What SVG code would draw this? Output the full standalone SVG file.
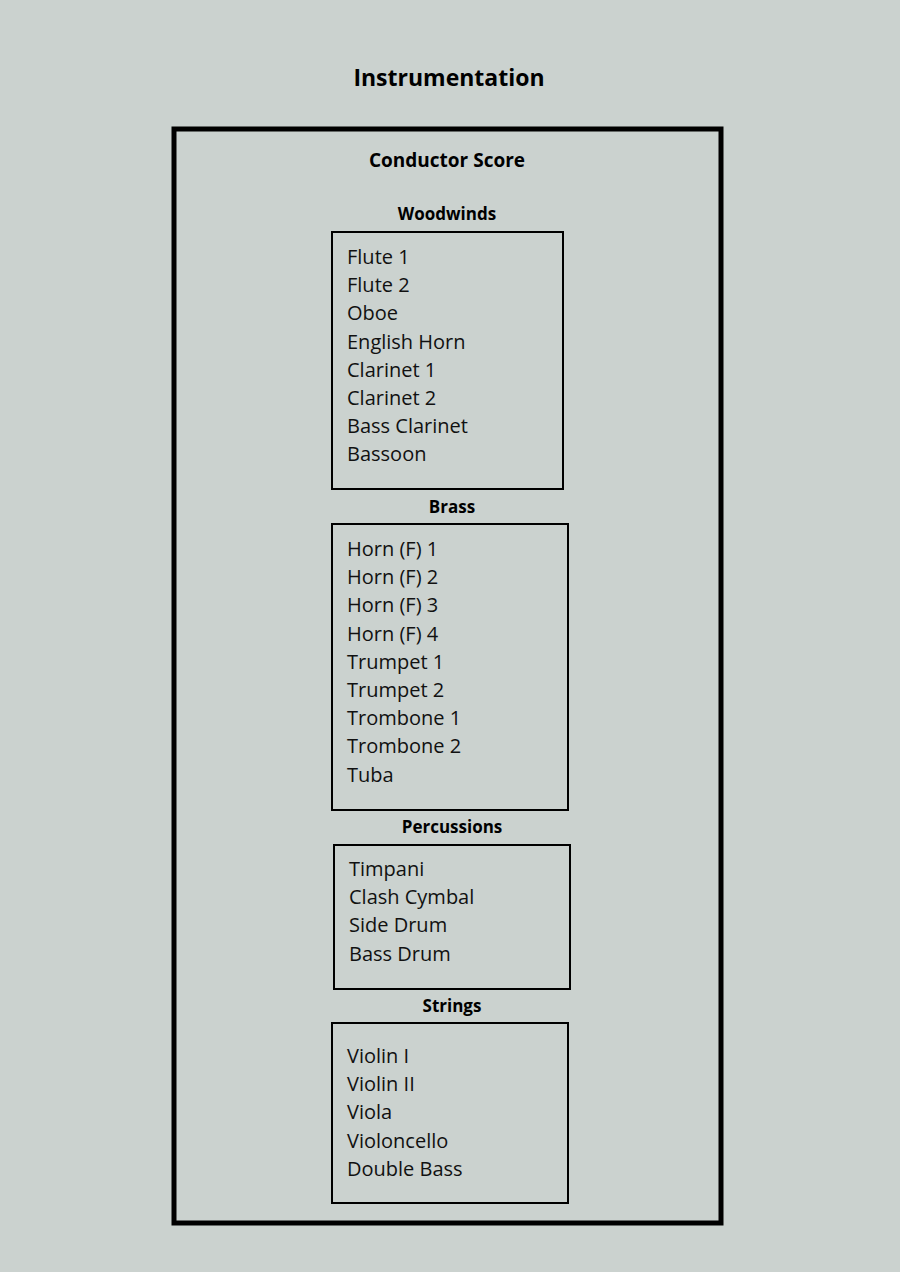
<svg xmlns="http://www.w3.org/2000/svg" width="900" height="1272" viewBox="0 0 900 1272">
<style>
.t{font-family:"Open Sans","Noto Sans",sans-serif;fill:#000}
.h{font-weight:bold;text-anchor:middle}
.i{font-size:20px;fill:#111}
.b{fill:none;stroke:#000;stroke-width:2}
</style>
<rect width="900" height="1272" fill="#cbd2cf"/>
<text class="t h" x="449" y="86" font-size="23">Instrumentation</text>
<g id="score">
<rect x="174" y="129" width="547" height="1094" fill="none" stroke="#000" stroke-width="5"/>
<text class="t h" x="447" y="167" font-size="19">Conductor Score</text>
</g>
<g id="woodwinds">
<text class="t h" x="447" y="220" font-size="17">Woodwinds</text>
<rect class="b" x="332" y="232" width="231" height="257"/>
<text class="t i" x="347" y="264">Flute 1<tspan x="347" dy="28.2">Flute 2</tspan><tspan x="347" dy="28.2">Oboe</tspan><tspan x="347" dy="28.2">English Horn</tspan><tspan x="347" dy="28.2">Clarinet 1</tspan><tspan x="347" dy="28.2">Clarinet 2</tspan><tspan x="347" dy="28.2">Bass Clarinet</tspan><tspan x="347" dy="28.2">Bassoon</tspan></text>
</g>
<g id="brass">
<text class="t h" x="452" y="513" font-size="17">Brass</text>
<rect class="b" x="332" y="524" width="236" height="286"/>
<text class="t i" x="347" y="556">Horn (F) 1<tspan x="347" dy="28.2">Horn (F) 2</tspan><tspan x="347" dy="28.2">Horn (F) 3</tspan><tspan x="347" dy="28.2">Horn (F) 4</tspan><tspan x="347" dy="28.2">Trumpet 1</tspan><tspan x="347" dy="28.2">Trumpet 2</tspan><tspan x="347" dy="28.2">Trombone 1</tspan><tspan x="347" dy="28.2">Trombone 2</tspan><tspan x="347" dy="28.2">Tuba</tspan></text>
</g>
<g id="percussions">
<text class="t h" x="452" y="833" font-size="17">Percussions</text>
<rect class="b" x="334" y="845" width="236" height="144"/>
<text class="t i" x="349" y="876">Timpani<tspan x="349" dy="28.2">Clash Cymbal</tspan><tspan x="349" dy="28.2">Side Drum</tspan><tspan x="349" dy="28.2">Bass Drum</tspan></text>
</g>
<g id="strings">
<text class="t h" x="452" y="1012" font-size="17">Strings</text>
<rect class="b" x="332" y="1023" width="236" height="180"/>
<text class="t i" x="347" y="1063">Violin I<tspan x="347" dy="28.2">Violin II</tspan><tspan x="347" dy="28.2">Viola</tspan><tspan x="347" dy="28.2">Violoncello</tspan><tspan x="347" dy="28.2">Double Bass</tspan></text>
</g>
<g id="connectors"/>
</svg>
